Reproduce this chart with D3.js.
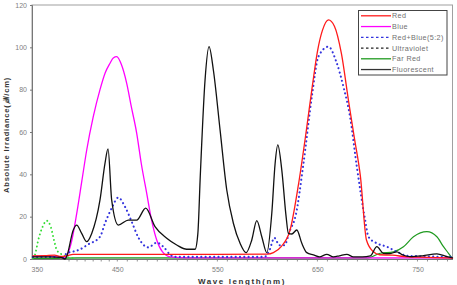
<!DOCTYPE html>
<html><head><meta charset="utf-8">
<script src="https://cdn.jsdelivr.net/npm/d3@7"></script>
<style>body{margin:0;background:#fff}svg{display:block}</style>
</head><body><svg id="c" width="457" height="285"></svg>
<script>
// ---- data (wavelength nm, irradiance) ----
const seriesNames = ["Red","Blue","Red+Blue(5:2)","Ultraviolet","Far Red","Fluorescent"];
const red = [[345,1.5],[360,1.6],[372,1.8],[380,1.2],[387,1.5],[395,2.2],[450,2.2],[550,2.2],[600,2.3],[606,3],[614,6],[622.7,13.7],[631,35],[639,61],[645,82],[650,98],[655,108],[661,113],[667,110],[674,97],[681,75],[687,57],[693,38.9],[699,9],[706,3.4],[712,2],[725,1.8],[740,1],[760,0.8],[785,0.4]];
const blue = [[345,1.2],[360,1.5],[375,1],[383,0.5],[387,1.5],[393,8],[399.6,21.6],[406,37],[412,51.5],[420,67],[428.5,80],[435,88],[441,92.5],[445,95],[449.3,95.6],[454,92],[459.4,83],[464,72],[469.4,59.4],[474,45],[479.4,31],[484,19],[489.4,9],[495,3.5],[503,1],[520,0.5],[785,0.5]];
const redBlue = [[345,1],[370,1],[383,0.8],[387,2.7],[395,3.5],[401.5,4.2],[413.9,6.9],[428.5,10.5],[434.7,16.9],[443,24],[451,29],[457.7,24.7],[464.4,17.6],[471,10.2],[481,5.5],[489.4,7.7],[496,5.8],[503,2],[508,1],[597,1],[602,4],[607,10],[612,6.5],[617,6.5],[622.7,13.7],[628,20],[636,45],[644.4,76.7],[651,95.6],[661,100.3],[669,93],[676,81.4],[682.7,67],[689.4,43.6],[697.7,18.4],[701,10.5],[709.4,7.4],[719.4,5.8],[729.4,3.4],[740,1.5],[785,1]];
const ultraviolet = [[345,0.5],[347.7,2],[351.8,9],[357.3,15.3],[362.3,18.1],[367.2,15.3],[371.3,9],[374.7,4.3],[378.8,2.7],[382.9,1.9],[387,1],[395,0.5]];
const farRed = [[345,0.3],[370,0.3],[400,0.5],[700,0.5],[712.7,2.7],[726,3.4],[736,5.8],[746,10.5],[759.4,12.9],[769.4,10.5],[776,5.8],[781,2.7],[784,0.8]];
const fluorescent = [[345,1],[365,1],[380,0.8],[385,0],[387,1.1],[395.3,13.7],[399.5,16],[405.7,12.1],[412,8.2],[418.2,12.1],[428.5,27.9],[434.7,45.2],[438.5,52],[443,27.9],[451,16],[461,18.4],[469.4,18.4],[478.4,24],[487.7,15.3],[499.4,9.8],[509.4,6.6],[519.4,4.6],[527.7,4.6],[530.5,12],[533,40],[537.7,84.6],[541.7,100.3],[546,89.3],[552.7,61],[559.4,32.6],[566,16.9],[572.7,7.4],[578.7,3],[584.4,9],[589.4,18.1],[594.4,10.5],[599.4,3],[604.4,21.6],[607.7,45],[610.4,53.9],[614.4,42],[618.7,20],[621,12.1],[624.4,11.8],[629.4,13.7],[634.4,7.4],[639.4,3],[646,1.9],[652,1],[659.4,2.2],[666,1],[672,1.5],[679.4,2.2],[686,1],[695,1],[703,1.5],[709.4,5.8],[716,2.7],[722,2.5],[729.4,3.4],[735,2],[742.7,1.1],[755,1.5],[769.4,2.4],[779.4,1.1],[785,0.5]];
const xTickLabels = [350,450,550,650,750];
const yTickLabels = [0,20,40,60,80,100,120];
const xMinorTicks = d3.range(390,785,10);

// ---- layout ----
const svg = d3.select("#c");
const L=32, R=452.5, T=5, B=259;
const x = d3.scaleLinear().domain([344,450,785]).range([L,117.3,R]);
const y = d3.scaleLinear().domain([0,120]).range([B,T]);

svg.append("rect").attr("x",L).attr("y",T).attr("width",R-L).attr("height",B-T)
  .attr("fill","none").attr("stroke","#a0a0a0").attr("stroke-width",1);

const font = "'Liberation Sans', Arial, sans-serif";
const ya = svg.append("g").attr("transform",`translate(${L},0)`)
  .call(d3.axisLeft(y).tickValues(yTickLabels).tickSize(2).tickPadding(3));
ya.select(".domain").attr("stroke","#777");
ya.selectAll("line").attr("stroke","#777");
ya.selectAll("text").attr("fill","#808080").style("font-family",font).style("font-size","7px");

const xa = svg.append("g").attr("transform",`translate(0,${B})`)
  .call(d3.axisBottom(x).tickValues(xTickLabels).tickSize(0).tickPadding(8));
xa.select(".domain").attr("stroke","#777");
xa.selectAll("text").attr("fill","#808080").style("font-family",font).style("font-size","7px");
svg.append("g").selectAll("line").data(xMinorTicks).join("line")
  .attr("x1",d=>x(d)).attr("x2",d=>x(d)).attr("y1",B).attr("y2",B+2.5)
  .attr("stroke","#777").attr("stroke-width",0.8);

const line = d3.line().x(d=>x(d[0])).y(d=>y(d[1])).curve(d3.curveMonotoneX);
const styles = [
  {data:farRed, color:"#1f9a1f", dash:null, w:1.2},
  {data:ultraviolet, color:"#33dd33", dash:"0.1,4", w:1.9},
  {data:blue, color:"#ff00ff", dash:null, w:1.3},
  {data:redBlue, color:"#3333dd", dash:"0.1,4.2", w:2.1},
  {data:red, color:"#ff1a1a", dash:null, w:1.3},
  {data:fluorescent, color:"#111", dash:null, w:1.3}
];
const g = svg.append("g");
styles.forEach(s=>{
  g.append("path").attr("d",line(s.data)).attr("fill","none")
   .attr("stroke",s.color).attr("stroke-width",s.w)
   .attr("stroke-dasharray",s.dash).attr("stroke-linecap","round");
});

const legendStyles = [
  {color:"#ff1a1a",dash:null},
  {color:"#ff00ff",dash:null},
  {color:"#3333dd",dash:"2.5,2.5"},
  {color:"#222",dash:"2.5,2.5"},
  {color:"#1f9a1f",dash:null},
  {color:"#333",dash:null}
];
const lg = svg.append("g");
lg.append("rect").attr("x",358.5).attr("y",10.5).attr("width",88.5).attr("height",64.5)
  .attr("fill","#fff").attr("stroke","#444").attr("stroke-width",1);
seriesNames.forEach((n,i)=>{
  const yy = 15.8 + i*10.75;
  lg.append("line").attr("x1",361).attr("x2",391).attr("y1",yy).attr("y2",yy)
    .attr("stroke",legendStyles[i].color).attr("stroke-width",1.3)
    .attr("stroke-dasharray",legendStyles[i].dash);
  lg.append("text").attr("x",392).attr("y",yy+2.5).text(n)
    .attr("fill","#707070").style("font-family",font).style("font-size","7.2px")
    .style("letter-spacing","0.4px");
});

svg.append("text").attr("transform","translate(9,135) rotate(-90)")
  .attr("text-anchor","middle").text("Absolute Irradiance(㎼/cm)")
  .attr("fill","#333").style("font-family",font).style("font-size","7.5px")
  .style("font-weight","bold").style("letter-spacing","0.8px");
svg.append("text").attr("x",242).attr("y",283.5).attr("text-anchor","middle")
  .text("Wave length(nm)").attr("fill","#333").style("font-family",font)
  .style("font-size","8px").style("font-weight","bold").style("letter-spacing","1.6px");
</script></body></html>
